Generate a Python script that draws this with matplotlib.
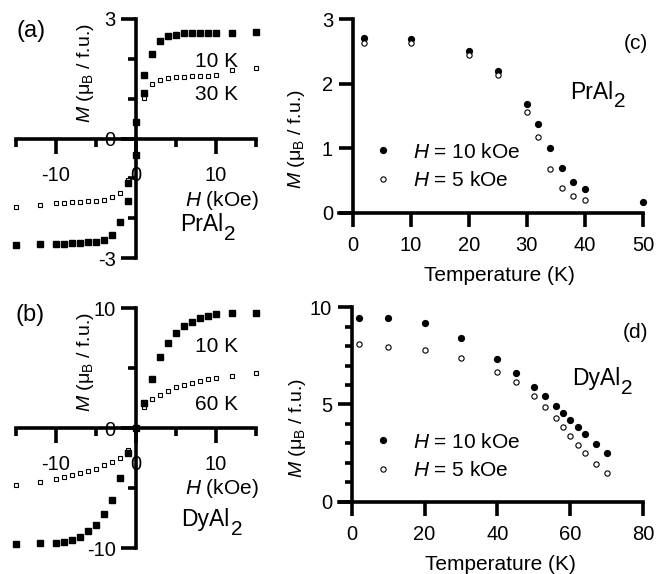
import matplotlib

matplotlib.use("Agg")
import matplotlib.pyplot as plt

plt.rcParams["font.family"] = ["Liberation Sans", "DejaVu Sans"]
plt.rcParams["font.size"] = 15
plt.rcParams["xtick.labelsize"] = 14.5
plt.rcParams["ytick.labelsize"] = 14.5
plt.rcParams["mathtext.fontset"] = "custom"
plt.rcParams["mathtext.rm"] = "Liberation Sans"
plt.rcParams["mathtext.it"] = "Liberation Sans:italic"
plt.rcParams["axes.unicode_minus"] = False

# M(H) loops, PrAl2
pr_h_10k = [-15, -12, -10, -9, -8, -7, -6, -5, -4, -3, -2, -1, -1, 0, 0,
            1, 1, 2, 3, 4, 5, 6, 7, 8, 9, 10, 12, 15]
pr_m_10k = [-2.67, -2.65, -2.64, -2.64, -2.63, -2.62, -2.61, -2.60, -2.55, -2.43,
            -2.10, -1.58, -1.11, -0.42, 0.42, 1.13, 1.60, 2.13, 2.46, 2.57,
            2.61, 2.65, 2.66, 2.66, 2.66, 2.66, 2.66, 2.68]
pr_h_30k = [-15, -12, -10, -9, -8, -7, -6, -5, -4, -3, -2, -1,
            1, 2, 3, 4, 5, 6, 7, 8, 9, 10, 12, 15]
pr_m_30k = [-1.73, -1.67, -1.63, -1.62, -1.60, -1.59, -1.58, -1.56, -1.55, -1.48,
            -1.36, -1.05, 1.02, 1.37, 1.47, 1.52, 1.54, 1.55, 1.56, 1.57,
            1.57, 1.59, 1.71, 1.76]

# M(H) loops, DyAl2
dy_h_10k = [-15, -12, -10, -9, -8, -7, -6, -5, -4, -3, -2, -1, 0,
            1, 2, 3, 4, 5, 6, 7, 8, 9, 10, 12, 15]
dy_m_10k = [-9.67, -9.58, -9.53, -9.44, -9.30, -9.03, -8.60, -8.06, -7.17, -5.97,
            -4.17, -2.08, 0.0, 2.08, 4.10, 5.90, 7.10, 7.90, 8.50, 8.90,
            9.20, 9.36, 9.50, 9.58, 9.60]
dy_h_60k = [-15, -12, -10, -9, -8, -7, -6, -5, -4, -3, -2, -1,
            1, 2, 3, 4, 5, 6, 7, 8, 9, 10, 12, 15]
dy_m_60k = [-4.72, -4.50, -4.20, -4.05, -3.90, -3.75, -3.60, -3.40, -3.10, -2.80,
            -2.45, -1.80, 1.75, 2.42, 2.78, 3.10, 3.40, 3.60, 3.75, 3.95,
            4.10, 4.20, 4.36, 4.64]

# M(T), PrAl2
pr_t_10koe = [2, 10, 20, 25, 30, 32, 34, 36, 38, 40, 50]
pr_mt_10koe = [2.71, 2.70, 2.51, 2.20, 1.69, 1.38, 1.00, 0.69, 0.48, 0.36, 0.16]
pr_t_5koe = [2, 10, 20, 25, 30, 32, 34, 36, 38, 40]
pr_mt_5koe = [2.63, 2.63, 2.44, 2.14, 1.56, 1.18, 0.68, 0.39, 0.26, 0.20]

# M(T), DyAl2
dy_t = [2, 10, 20, 30, 40, 45, 50, 53, 56, 58, 60, 62, 64, 67, 70]
dy_mt_10koe = [9.47, 9.47, 9.18, 8.44, 7.32, 6.64, 5.92, 5.44, 4.94, 4.58,
               4.20, 3.86, 3.46, 2.95, 2.49]
dy_mt_5koe = [8.10, 7.94, 7.80, 7.38, 6.69, 6.17, 5.44, 4.89, 4.29, 3.86,
              3.40, 2.92, 2.49, 1.94, 1.49]

W, H = 666, 574
LW = 2.6
YLABEL = r"$M$ (μ$_\mathrm{B}$ / f.u.)"


def px_axes(fig, left, top, right, bottom):
    return fig.add_axes([left / W, 1 - bottom / H, (right - left) / W, (bottom - top) / H])


def compound(ax, x, y, base):
    # formula with a near full-size, lowered "2"
    t = ax.text(x, y, base, ha="left", va="baseline", fontsize=16.5)
    ax.annotate("2", xy=(1, 0), xycoords=t, xytext=(0.6, -5.5),
                textcoords="offset points", ha="left", va="bottom", fontsize=15)


def cross_axes(ax, ymax, ymaj, ymin):
    for side in ("top", "right"):
        ax.spines[side].set_visible(False)
    ax.spines["left"].set_position(("data", 0))
    ax.spines["bottom"].set_position(("data", 0))
    for side in ("left", "bottom"):
        ax.spines[side].set_linewidth(LW)
    ax.set_xlim(-15, 15)
    ax.set_ylim(-ymax, ymax)
    ax.set_xticks([-10, 0, 10], ["-10", "0", "10"])
    ax.set_xticks([-15, -5, 5, 15], minor=True)
    ax.set_yticks(ymaj, [str(v) for v in ymaj])
    ax.set_yticks(ymin, minor=True)
    ax.tick_params(which="major", direction="out", length=10.5, width=LW)
    ax.tick_params(which="minor", direction="out", length=5.5, width=LW)
    ax.tick_params(axis="x", which="major", pad=9)
    ax.tick_params(axis="y", which="major", pad=4)
    ax.set_ylabel(YLABEL, fontsize=14, va="center", ha="center")
    ax.yaxis.set_label_coords(0.29, 0.775)


def temp_axes(ax, xmin, xmax, ymax, xticks, yticks, yminor):
    for side in ("top", "right"):
        ax.spines[side].set_visible(False)
    ax.spines["left"].set_position(("data", 0))
    for side in ("left", "bottom"):
        ax.spines[side].set_linewidth(LW)
    ax.set_xlim(xmin, xmax)
    ax.set_ylim(0, ymax)
    ax.set_xticks(xticks)
    ax.set_yticks(yticks)
    ax.set_yticks(yminor, minor=True)
    ax.tick_params(which="major", direction="out", length=10, width=LW)
    ax.tick_params(which="minor", direction="out", length=5, width=LW)
    ax.tick_params(axis="x", which="major", pad=7)
    ax.tick_params(axis="y", which="major", pad=4)
    ax.set_xlabel("Temperature (K)", va="center")
    ax.xaxis.set_label_coords(0.53, -0.324)
    ax.set_ylabel(YLABEL, fontsize=14, va="center", ha="center")
    ax.yaxis.set_label_coords(-0.138, 0.38)


def loop_plot(ax, h_hi, m_hi, h_lo, m_lo):
    ax.plot(h_lo, m_lo, ls="none", marker="s", ms=3.4, mfc="white", mec="black",
            mew=0.8, clip_on=False, zorder=3)
    ax.plot(h_hi, m_hi, ls="none", marker="s", ms=3.9, color="black",
            clip_on=False, zorder=3)


def temp_plot(ax, t_hi, m_hi, t_lo, m_lo, legend_pos):
    hi, = ax.plot(t_hi, m_hi, ls="none", marker="o", ms=4.2, color="black",
                  clip_on=False, zorder=3)
    lo, = ax.plot(t_lo, m_lo, ls="none", marker="o", ms=3.8, mfc="white",
                  mec="black", mew=0.8, clip_on=False, zorder=3)
    ax.legend([hi, lo], [r"$H$ = 10 kOe", r"$H$ = 5 kOe"], loc="upper left",
              bbox_to_anchor=legend_pos, frameon=False, handlelength=1.0,
              handletextpad=0.94, labelspacing=0.45, borderpad=0, borderaxespad=0)


fig = plt.figure(figsize=(W / 100, H / 100), dpi=100)

# (a) PrAl2 loop
ax_a = px_axes(fig, 16, 19, 256, 258)
cross_axes(ax_a, 3, [-3, 0, 3], [-2, -1, 1, 2])
loop_plot(ax_a, pr_h_10k, pr_m_10k, pr_h_30k, pr_m_30k)
ax_a.text(-14.9, 2.69, "(a)", ha="left", va="center", fontsize=17)
ax_a.text(7.4, 1.80, "10 K", ha="left", va="baseline")
ax_a.text(7.4, 0.96, "30 K", ha="left", va="baseline")
ax_a.text(15.3, -1.69, r"$H$ (kOe)", ha="right", va="baseline")
compound(ax_a, 5.5, -2.33, "PrAl")

# (b) DyAl2 loop
ax_b = px_axes(fig, 16, 308.3, 256, 548.3)
cross_axes(ax_b, 10, [-10, 0, 10], [-5, 5])
loop_plot(ax_b, dy_h_10k, dy_m_10k, dy_h_60k, dy_m_60k)
ax_b.text(-15.1, 9.44, "(b)", ha="left", va="center", fontsize=17)
ax_b.text(7.4, 6.38, "10 K", ha="left", va="baseline")
ax_b.text(7.4, 1.53, "60 K", ha="left", va="baseline")
ax_b.text(15.3, -5.45, r"$H$ (kOe)", ha="right", va="baseline")
compound(ax_b, 5.7, -8.14, "DyAl")

# (c) PrAl2 M(T)
ax_c = px_axes(fig, 338.6, 19.3, 643, 212.7)
temp_axes(ax_c, -2.4, 50, 3, [0, 10, 20, 30, 40, 50], [0, 1, 2, 3], [])
temp_plot(ax_c, pr_t_10koe, pr_mt_10koe, pr_t_5koe, pr_mt_5koe, (0.112, 0.362))
ax_c.text(50.9, 2.63, "(c)", ha="right", va="center")
compound(ax_c, 37.4, 1.77, "PrAl")

# (d) DyAl2 M(T)
ax_d = px_axes(fig, 339.3, 307.3, 643.3, 501.7)
temp_axes(ax_d, -3.4, 80, 10, [0, 20, 40, 60, 80], [0, 5, 10],
          [1, 2, 3, 4, 6, 7, 8, 9])
temp_plot(ax_d, dy_t, dy_mt_10koe, dy_t, dy_mt_5koe, (0.11, 0.355))
ax_d.text(81.3, 8.68, "(d)", ha="right", va="center")
compound(ax_d, 60.4, 6.0, "DyAl")

fig.savefig("out.png", dpi=100)
